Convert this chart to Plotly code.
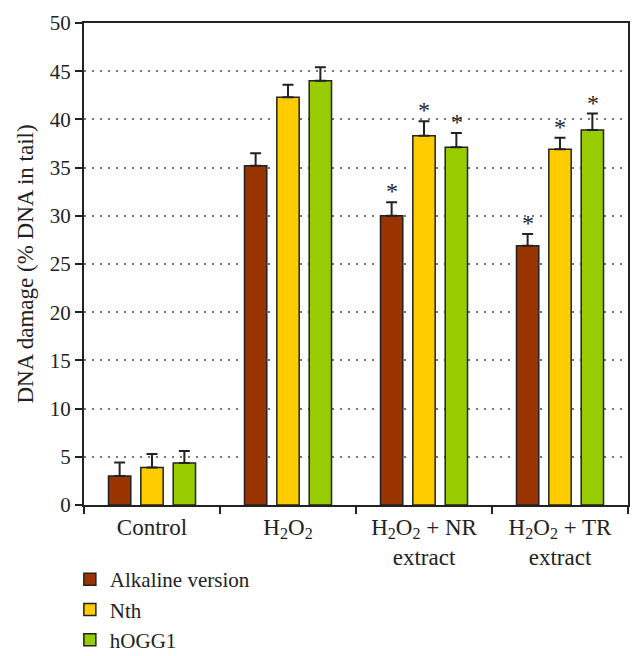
import plotly.graph_objects as go

categories = ["Control", "H2O2", "NR", "TR"]
tick_labels = ["Control", "H<sub>2</sub>O<sub>2</sub>",
               "H<sub>2</sub>O<sub>2</sub> + NR<br>extract",
               "H<sub>2</sub>O<sub>2</sub> + TR<br>extract"]
series_names = ["Alkaline version", "Nth", "hOGG1"]
alkaline = [3.0, 35.2, 30.0, 26.9]
alkaline_err = [1.4, 1.3, 1.4, 1.2]
nth = [3.9, 42.3, 38.3, 36.9]
nth_err = [1.4, 1.3, 1.5, 1.2]
hogg1 = [4.35, 44.0, 37.1, 38.9]
hogg1_err = [1.25, 1.4, 1.5, 1.7]
significant = [False, False, True, True]
colors = ["#993300", "#FFCC00", "#99CC00"]

FONT = "Liberation Serif"
fig = go.Figure()
vals = [alkaline, nth, hogg1]
errs = [alkaline_err, nth_err, hogg1_err]
for i, (name, v, e, c) in enumerate(zip(series_names, vals, errs, colors)):
    fig.add_trace(go.Bar(
        x=categories, y=v, name=name,
        marker=dict(color=c, line=dict(color="#222222", width=1.5)),
        error_y=dict(type="data", array=e, arrayminus=[0]*len(e), symmetric=False,
                     color="#222222", thickness=2, width=5.5),
    ))

offsets = [-32.5, 0, 32.5]
for i in range(3):
    for j, cat in enumerate(categories):
        if significant[j]:
            fig.add_annotation(x=cat, y=vals[i][j] + errs[i][j], xshift=offsets[i],
                               yshift=-4, text="*", showarrow=False, yanchor="bottom",
                               font=dict(family=FONT, size=24, color="#222222"))

fig.update_layout(
    width=643, height=656,
    margin=dict(l=84, r=15, t=23, b=151, autoexpand=False),
    plot_bgcolor="white", paper_bgcolor="white",
    barmode="group", bargap=0.286, bargroupgap=0.31,
    font=dict(family=FONT, size=21, color="#222222"),
    showlegend=True,
    legend=dict(x=-0.026, xanchor="left", y=-0.112, yanchor="top",
                font=dict(family=FONT, size=21, color="#222222"),
                itemwidth=30, bgcolor="rgba(0,0,0,0)"),
)
fig.update_xaxes(
    tickmode="array", tickvals=categories, ticktext=tick_labels,
    tickson="boundaries", ticks="outside", ticklen=7, tickwidth=1.5, tickcolor="#222222",
    showline=True, linecolor="#222222", linewidth=2, mirror=True,
    showgrid=False, tickfont=dict(family=FONT, size=23),
)
fig.update_yaxes(
    range=[0, 50], dtick=5, ticks="outside", ticklen=7, tickwidth=1.5, tickcolor="#222222",
    showline=True, linecolor="#222222", linewidth=2, mirror=True,
    showgrid=True, gridcolor="#777777", griddash="2px,6px", gridwidth=1.5,
    zeroline=False, tickfont=dict(family=FONT, size=21),
    title=dict(text="DNA damage (% DNA in tail)", font=dict(family=FONT, size=23), standoff=10),
)

fig.write_html("out.html", config={"displayModeBar": False},
               post_script="document.body.style.margin='0';")
